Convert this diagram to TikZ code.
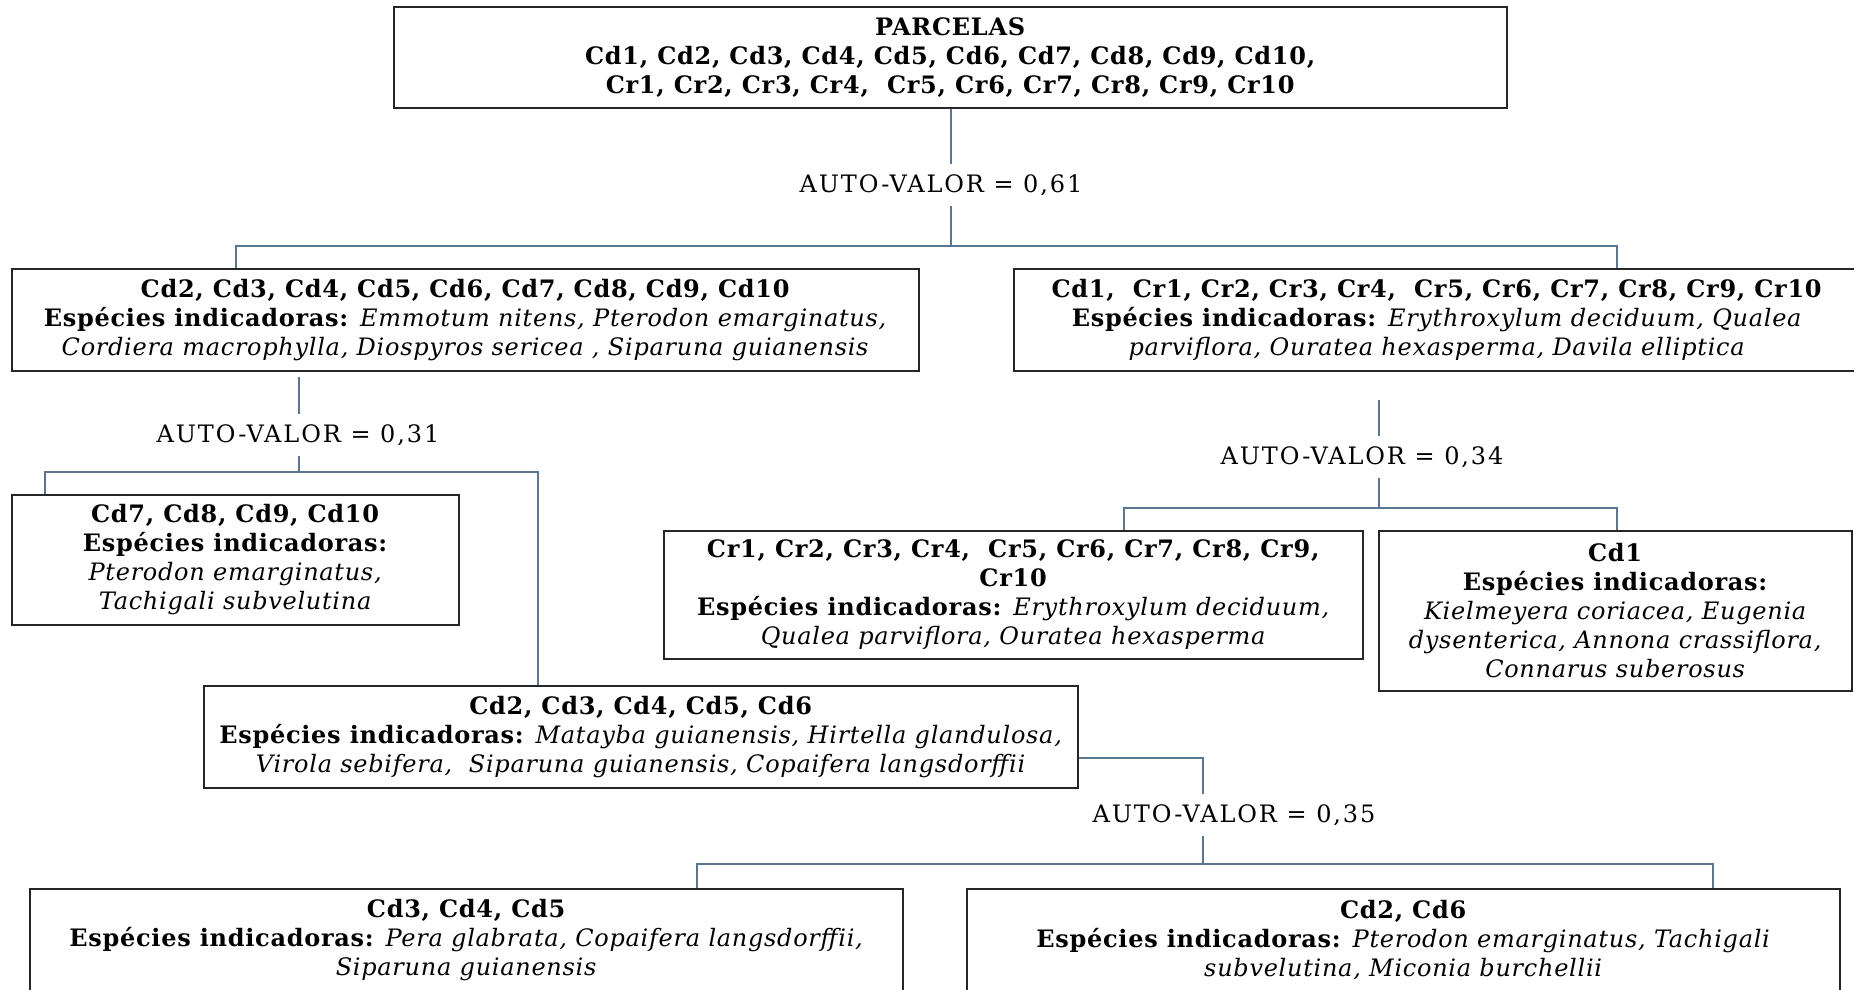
\documentclass[tikz,border=0pt]{standalone}
\usepackage{fontspec}
\setmainfont{DejaVu Serif}[LetterSpace=3]
\usepackage{xcolor}
\usetikzlibrary{positioning, calc}
\definecolor{linkblue}{RGB}{90,118,144}
\newcommand{\espind}{\textbf{Espécies indicadoras:}}
\tikzset{
  plotbox/.style={rectangle, draw=black!85, line width=2pt, fill=white,
                  align=center, inner sep=0pt,
                  font=\fontsize{24}{29}\selectfont,
                  minimum width=#1, minimum height=102},
  plotbox/.default=900,
  conn/.style={draw=linkblue, line width=2pt},
  autoval/.style={font=\fontsize{24}{26}\selectfont\addfontfeature{LetterSpace=8},
                  inner sep=0pt, minimum height=42},
}

\begin{document}
\begin{tikzpicture}[x=1pt, y=-1pt]
  \useasboundingbox[fill=white] (0,0) rectangle (1854,989);
  %% Root
  \node[plotbox=1113, minimum height=101] (parc) at (950.5,57.5)
    {\textbf{PARCELAS}\\
     \textbf{Cd1, Cd2, Cd3, Cd4, Cd5, Cd6, Cd7, Cd8, Cd9, Cd10,}\\
     \textbf{Cr1, Cr2, Cr3, Cr4,\ \ Cr5, Cr6, Cr7, Cr8, Cr9, Cr10}};
  \node[autoval] (v61) at (941,185) {AUTO-VALOR = 0,61};
  %% First split
  \node[plotbox=907] (g1) at (465.5,320)
    {\textbf{Cd2, Cd3, Cd4, Cd5, Cd6, Cd7, Cd8, Cd9, Cd10}\\
     \espind{} \textit{Emmotum nitens, Pterodon emarginatus,}\\
     \textit{Cordiera macrophylla, Diospyros sericea , Siparuna guianensis}};
  \node[plotbox=846] (g2) at (1437,320)
    {\textbf{Cd1,\ \ Cr1, Cr2, Cr3, Cr4,\ \ Cr5, Cr6, Cr7, Cr8, Cr9, Cr10}\\
     \espind{} \textit{Erythroxylum deciduum, Qualea}\\
     \textit{parviflora, Ouratea hexasperma, Davila elliptica}};
  \coordinate (j61) at (950.5,246);
  \coordinate (c1l) at (236,246);
  \coordinate (c1r) at (1617,246);
  \draw[conn] (parc.south) -- (parc.south |- v61.north);
  \draw[conn] (v61.south -| j61) -- (j61);
  \draw[conn] (g1.north -| c1l) -- (c1l) -- (c1r) -- (g2.north -| c1r);
  %% Left branch
  \node[autoval] (v31) at (298,435) {AUTO-VALOR = 0,31};
  \node[plotbox=447, minimum height=130] (g3) at (235.5,560)
    {\textbf{Cd7, Cd8, Cd9, Cd10}\\
     \espind\\
     \textit{Pterodon emarginatus,}\\
     \textit{Tachigali subvelutina}};
  \node[plotbox=874] (g4) at (641,737)
    {\textbf{Cd2, Cd3, Cd4, Cd5, Cd6}\\
     \espind{} \textit{Matayba guianensis, Hirtella glandulosa,}\\
     \textit{Virola sebifera,\ \ Siparuna guianensis, Copaifera langsdorffii}};
  \coordinate (j31) at (299,472);
  \coordinate (c3l) at (45,472);
  \coordinate (c3r) at (538,472);
  \draw[conn, shorten <=5pt] (g1.south -| j31) -- (v31.north -| j31);
  \draw[conn] (v31.south -| j31) -- (j31);
  \draw[conn] (g3.north -| c3l) -- (c3l) -- (c3r) -- (g4.north -| c3r);
  %% Right branch
  \node[autoval] (v34) at (1362,457) {AUTO-VALOR = 0,34};
  \node[plotbox=699, minimum height=128] (g5) at (1013.5,595)
    {\textbf{Cr1, Cr2, Cr3, Cr4,\ \ Cr5, Cr6, Cr7, Cr8, Cr9,}\\
     \textbf{Cr10}\\
     \espind{} \textit{Erythroxylum deciduum,}\\
     \textit{Qualea parviflora, Ouratea hexasperma}};
  \node[plotbox=473, minimum height=160] (g6) at (1615.5,611)
    {\textbf{Cd1}\\
     \espind\\
     \textit{Kielmeyera coriacea, Eugenia}\\
     \textit{dysenterica, Annona crassiflora,}\\
     \textit{Connarus suberosus}};
  \coordinate (j34) at (1379,508);
  \coordinate (c5l) at (1124,508);
  \coordinate (c5r) at (1617,508);
  \draw[conn, shorten <=28pt] (g2.south -| j34) -- (v34.north -| j34);
  \draw[conn] (v34.south -| j34) -- (j34);
  \draw[conn] (g5.north -| c5l) -- (c5l) -- (c5r) -- (g6.north -| c5r);
  %% Last split
  \node[autoval] (v35) at (1234,815) {AUTO-VALOR = 0,35};
  \node[plotbox=873] (g7) at (466.5,940)
    {\textbf{Cd3, Cd4, Cd5}\\
     \espind{} \textit{Pera glabrata, Copaifera langsdorffii,}\\
     \textit{Siparuna guianensis}};
  \node[plotbox=873] (g8) at (1403.5,940)
    {\textbf{Cd2, Cd6}\\
     \espind{} \textit{Pterodon emarginatus, Tachigali}\\
     \textit{subvelutina, Miconia burchellii}};
  \coordinate (k35) at (1203,758);
  \coordinate (j35) at (1203,864);
  \coordinate (c7l) at (697,864);
  \coordinate (c7r) at (1713,864);
  \draw[conn] (g4.east |- k35) -- (k35) -- (v35.north -| k35);
  \draw[conn] (v35.south -| k35) -- (j35);
  \draw[conn] (g7.north -| c7l) -- (c7l) -- (c7r) -- (g8.north -| c7r);
\end{tikzpicture}
\end{document}
